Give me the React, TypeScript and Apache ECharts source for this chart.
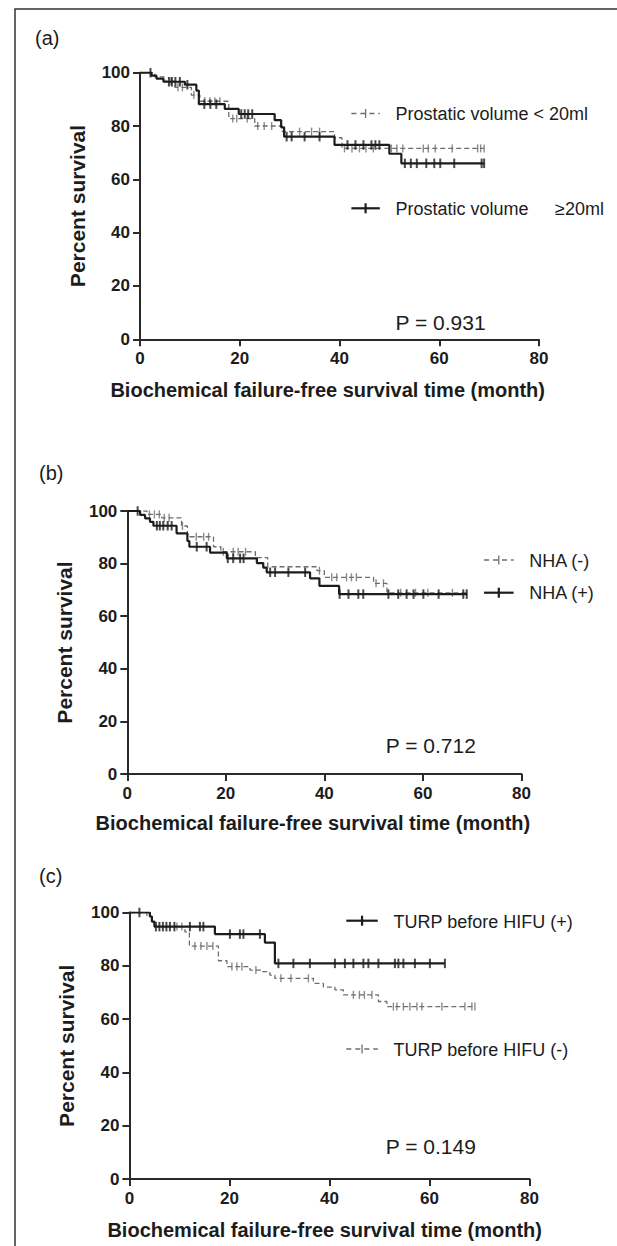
import React, { useEffect, useRef } from 'react';
import * as echarts from 'echarts';

// ---------- Panel (a): prostatic volume ----------
const aSolidTime = [0, 2.3, 3.3, 4.7, 9, 11.3, 11.8, 17, 19.8, 27, 28.3, 28.9, 39, 50, 52.4, 69];
const aSolidSurv = [100, 98.9, 97.8, 96.6, 95.5, 93.3, 88.2, 86.4, 84.5, 82.2, 79.5, 76, 72.9, 69.6, 66, 66];
const aSolidCensor = [2.1, 5.8, 6.4, 7.1, 8, 9.5, 12.9, 14.1, 15.3, 20.3, 21, 21.7, 22.5, 29.4, 30.4, 33, 36, 41.6, 43.2, 44.8, 46.4, 47.2, 48, 53.1, 54.3, 55.5, 57.4, 59, 60.2, 63, 68.5, 69];
const aDashTime = [0, 3, 5, 7, 10.3, 12, 17.8, 23, 28.5, 39, 40.5, 69];
const aDashSurv = [100, 98.4, 96.8, 94.5, 91.6, 89.3, 82.8, 80, 77.9, 75.6, 71.6, 71.6];
const aDashCensor = [6.2, 7.6, 8.5, 10.8, 13, 14, 15, 16, 18.6, 19.4, 21.5, 23.6, 24.9, 26.4, 32, 34.4, 36, 41, 42.5, 44, 45.3, 46.8, 50.4, 51.5, 52.7, 56.8, 57.8, 59.2, 62.6, 67.7, 68.3, 69];

// ---------- Panel (b): NHA ----------
const bSolidTime = [0, 2.6, 3.6, 4.6, 5.3, 10, 12.2, 12.6, 16.8, 20.2, 26.3, 27.6, 28.3, 37.1, 39, 43, 69];
const bSolidSurv = [100, 98.5, 97.2, 95.9, 94.4, 91.5, 88.6, 86.4, 84.2, 82, 80.2, 78.5, 76.7, 74.4, 71.5, 68.4, 68.4];
const bSolidCensor = [2.1, 6, 6.6, 7.3, 8.2, 9, 14.1, 16.1, 20.4, 21.5, 22.9, 23.6, 29, 30, 32.7, 36.1, 43.1, 44.9, 46.9, 47.9, 53, 55, 56.7, 58.1, 60.1, 63.2, 68.2, 68.9];
const bDashTime = [0, 4, 7, 11, 12.2, 17.5, 19, 26, 28.5, 38.5, 40, 50, 52.7, 69];
const bDashSurv = [100, 98.7, 97.4, 94.3, 90.2, 86.4, 84.5, 82.3, 78.8, 77.3, 74.8, 72.5, 68.9, 68.9];
const bDashCensor = [4.5, 5.5, 6.5, 7.5, 8.5, 11.2, 14, 15.5, 16.5, 19.5, 21.5, 22.5, 24, 39, 41.5, 42.5, 44.5, 45.5, 46.5, 50.5, 52, 55.5, 58.5, 61, 66];

// ---------- Panel (c): TURP before HIFU ----------
const cSolidTime = [0, 4.1, 4.5, 5, 17.1, 27.1, 29.1, 63.1];
const cSolidSurv = [100, 98.5, 96.6, 94.7, 91.9, 88.7, 80.9, 80.9];
const cSolidCensor = [2, 5.3, 6, 6.7, 7.4, 8.1, 9, 12.1, 14.1, 14.8, 20.1, 22.1, 22.8, 26.1, 29.8, 32.8, 36.1, 41.1, 43.1, 44.8, 46.8, 47.8, 49.8, 53.1, 53.8, 54.8, 57.1, 60.1, 63.1];
const cDashTime = [0, 3.5, 4.5, 5, 11.1, 12, 17.8, 19.5, 24.1, 26.5, 28.1, 29.1, 36.8, 38.8, 41.1, 42.8, 49.8, 51.5, 69.1];
const cDashSurv = [100, 98.5, 96.6, 94.7, 92.7, 87.4, 81.9, 79.7, 78.4, 77.8, 76.5, 75.3, 73.4, 72, 71, 69.1, 66.6, 64.7, 64.7];
const cDashCensor = [9.5, 10.5, 13.1, 14.3, 15.5, 16.7, 20.5, 21.5, 22.5, 25.3, 30.3, 32.3, 35.8, 44.8, 46, 47, 48.5, 52.8, 53.5, 54.8, 56.1, 57.5, 58.5, 62.5, 67.1, 68.5, 69.1];

const xTicks = [0, 20, 40, 60, 80];
const yTicks = [0, 20, 40, 60, 80, 100];

const FONT = '"Liberation Sans", Arial, Helvetica, sans-serif';
const INK = '#1c1c1c';
const GRAY = '#6e6e6e';

function kmValue(times: number[], survs: number[], t: number) {
  let v = survs[0];
  for (let i = 0; i < times.length; i++) if (times[i] <= t) v = survs[i];
  return v;
}
const curve = (times: number[], survs: number[]) => times.map((t, i) => [t, survs[i]]);
const censor = (times: number[], survs: number[], cts: number[]) => cts.map((t) => [t, kmValue(times, survs, t)]);

const grids = [
  { left: 140, top: 72.7, width: 399, height: 266.6 },
  { left: 127.3, top: 511, width: 394.1, height: 263 },
  { left: 129.4, top: 912.5, width: 400, height: 266.5 },
];

const panelData = [
  { solid: [aSolidTime, aSolidSurv, aSolidCensor], dash: [aDashTime, aDashSurv, aDashCensor] },
  { solid: [bSolidTime, bSolidSurv, bSolidCensor], dash: [bDashTime, bDashSurv, bDashCensor] },
  { solid: [cSolidTime, cSolidSurv, cSolidCensor], dash: [cDashTime, cDashSurv, cDashCensor] },
];

function solidSym(x1: number, x2: number, y: number) {
  return [
    { type: 'line', silent: true, shape: { x1, y1: y, x2, y2: y }, style: { stroke: INK, lineWidth: 2.2 } },
    { type: 'line', silent: true, shape: { x1: (x1 + x2) / 2, y1: y - 5, x2: (x1 + x2) / 2, y2: y + 5 }, style: { stroke: INK, lineWidth: 2.2 } },
  ];
}
function dashSym(x1: number, x2: number, y: number) {
  return [
    { type: 'line', silent: true, shape: { x1, y1: y, x2, y2: y }, style: { stroke: GRAY, lineWidth: 1.3, lineDash: [5, 4] } },
    { type: 'line', silent: true, shape: { x1: (x1 + x2) / 2, y1: y - 4.5, x2: (x1 + x2) / 2, y2: y + 4.5 }, style: { stroke: GRAY, lineWidth: 1.3 } },
  ];
}
function txt(text: string, x: number, y: number, fontSize: number, opts: any = {}) {
  return {
    type: 'text', silent: true, x, y,
    style: { text, fontSize, fontFamily: FONT, fill: INK, align: opts.align || 'left', verticalAlign: 'middle', fontWeight: opts.bold ? 'bold' : 'normal' },
  };
}

export default function App() {
  const ref = useRef<HTMLDivElement>(null);
  useEffect(() => {
    if (!ref.current) return;
    const chart = echarts.init(ref.current, undefined, { renderer: 'svg' });

    const xAxis: any[] = [];
    const yAxis: any[] = [];
    const series: any[] = [];
    grids.forEach((g, i) => {
      xAxis.push({
        type: 'value', gridIndex: i, min: xTicks[0], max: xTicks[xTicks.length - 1], interval: 20,
        splitLine: { show: false },
        axisLine: { show: true, lineStyle: { color: '#2a2a2a', width: 2 } },
        axisTick: { show: true, length: 7, lineStyle: { color: '#2a2a2a', width: 2 } },
        axisLabel: { color: INK, fontSize: 17, fontWeight: 'bold', fontFamily: FONT, margin: 11 },
      });
      yAxis.push({
        type: 'value', gridIndex: i, min: yTicks[0], max: yTicks[yTicks.length - 1], interval: 20,
        name: 'Percent survival', nameLocation: 'middle', nameGap: 63, nameRotate: 90,
        nameTextStyle: { color: INK, fontSize: 21, fontWeight: 'bold', fontFamily: FONT, verticalAlign: 'middle' },
        splitLine: { show: false },
        axisLine: { show: true, lineStyle: { color: '#2a2a2a', width: 2 } },
        axisTick: { show: true, length: 7, lineStyle: { color: '#2a2a2a', width: 2 } },
        axisLabel: { color: INK, fontSize: 17, fontWeight: 'bold', fontFamily: FONT, margin: 10 },
      });
      const p = panelData[i];
      const [dt, ds, dc] = p.dash as any;
      const [st, ss, sc] = p.solid as any;
      series.push({
        type: 'line', xAxisIndex: i, yAxisIndex: i, step: 'end', showSymbol: false, z: 2,
        data: curve(dt, ds), lineStyle: { color: GRAY, width: 1.3, type: [5, 3] },
      });
      series.push({
        type: 'scatter', xAxisIndex: i, yAxisIndex: i, z: 2, symbol: 'rect', symbolSize: [1.4, 8],
        itemStyle: { color: GRAY }, data: censor(dt, ds, dc),
      });
      series.push({
        type: 'line', xAxisIndex: i, yAxisIndex: i, step: 'end', showSymbol: false, z: 3,
        data: curve(st, ss), lineStyle: { color: INK, width: 2.2 },
      });
      series.push({
        type: 'scatter', xAxisIndex: i, yAxisIndex: i, z: 3, symbol: 'rect', symbolSize: [2, 9.5],
        itemStyle: { color: INK }, data: censor(st, ss, sc),
      });
    });

    const graphic: any[] = [
      { type: 'rect', silent: true, shape: { x: 15, y: 9, width: 700, height: 1400 }, style: { fill: 'none', stroke: '#333', lineWidth: 1.5 } },
      txt('(a)', 35, 37.5, 20),
      txt('(b)', 39, 472.7, 20),
      txt('(c)', 39, 876, 20),
      // panel a legend
      ...dashSym(351.4, 379.8, 113.5),
      txt('Prostatic volume < 20ml', 395.5, 114, 18),
      ...solidSym(351.4, 379.8, 208.3),
      txt('Prostatic volume', 395.5, 208.8, 18),
      txt('≥20ml', 555, 208.8, 18),
      txt('P = 0.931', 395.5, 322.5, 21),
      txt('Biochemical failure-free survival time (month)', 327.7, 390, 20, { bold: true, align: 'center' }),
      // panel b legend
      ...dashSym(484, 513.6, 560),
      txt('NHA (-)', 529.3, 560.5, 18),
      ...solidSym(484, 513.6, 592.7),
      txt('NHA (+)', 529.3, 593.2, 18),
      txt('P = 0.712', 385.7, 745, 21),
      txt('Biochemical failure-free survival time (month)', 312.9, 823.3, 20, { bold: true, align: 'center' }),
      // panel c legend
      ...solidSym(346.3, 377.8, 920.7),
      txt('TURP before HIFU (+)', 393.5, 922.2, 18),
      ...dashSym(346.3, 377.8, 1049),
      txt('TURP before HIFU (-)', 393.5, 1050, 18),
      txt('P = 0.149', 385.7, 1146.7, 21),
      txt('Biochemical failure-free survival time (month)', 324.7, 1230, 20, { bold: true, align: 'center' }),
    ];

    chart.setOption({
      animation: false,
      backgroundColor: '#ffffff',
      grid: grids.map((g) => ({ ...g, containLabel: false, outerBoundsMode: 'none' })),
      xAxis,
      yAxis,
      series,
      graphic,
    });
    return () => chart.dispose();
  }, []);
  return <div ref={ref} style={{ position: 'fixed', left: 0, top: 0, width: 617, height: 1246, background: '#fff' }} />;
}
